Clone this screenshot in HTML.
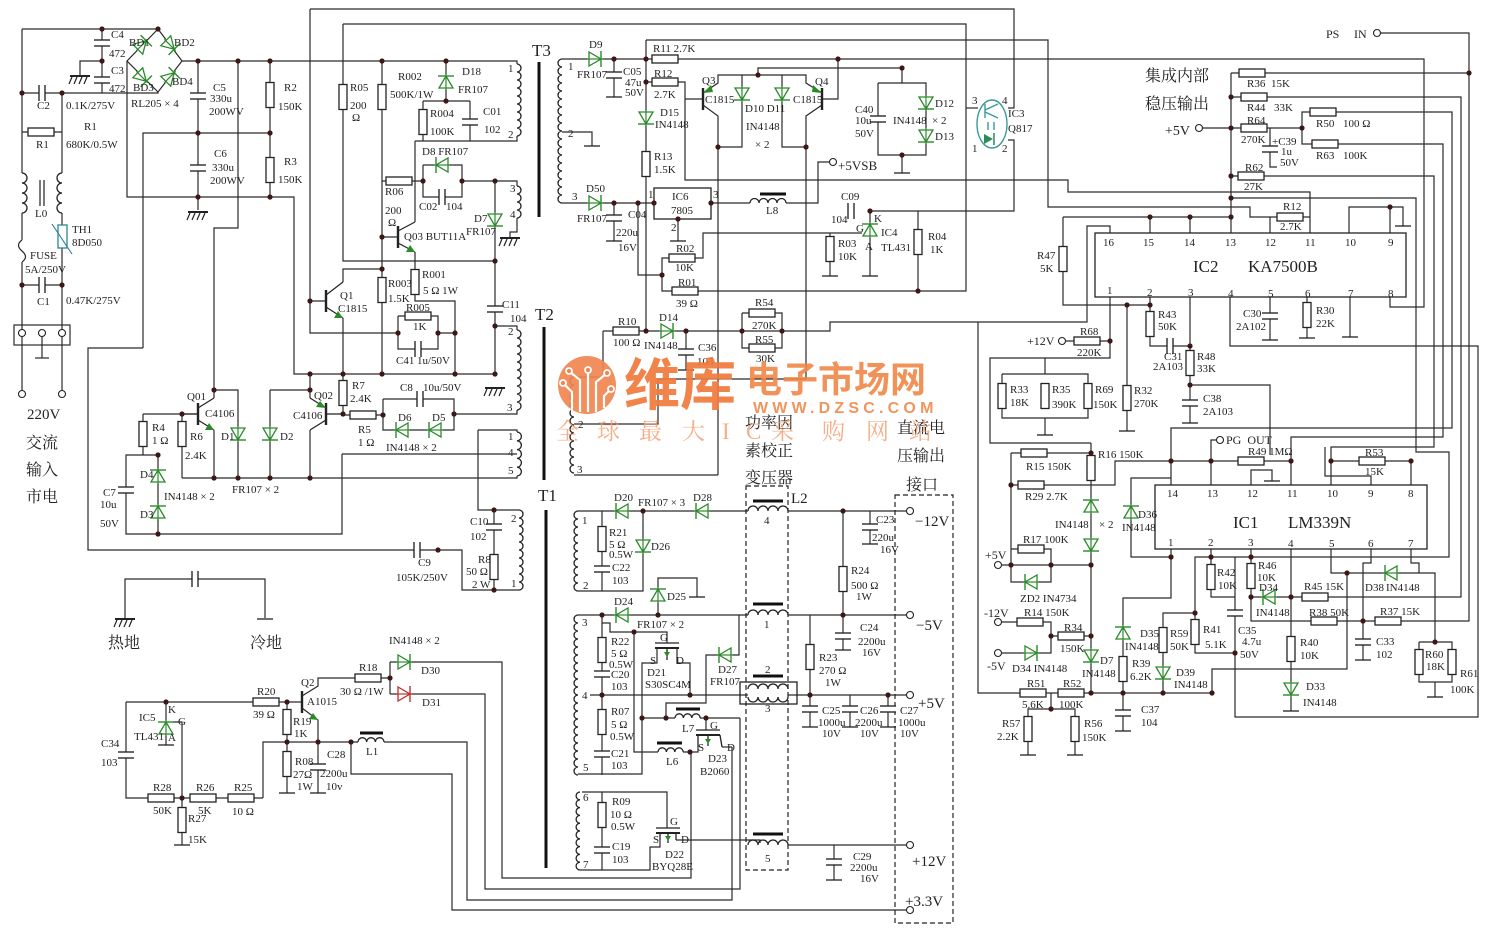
<!DOCTYPE html>
<html><head><meta charset="utf-8">
<style>
html,body{margin:0;padding:0;background:#fff;width:1485px;height:939px;overflow:hidden}
svg{display:block}
text{font-family:"Liberation Serif","Noto Serif CJK SC",serif;font-size:11px;fill:#222}
.b{font-size:15px}
.c{font-size:16px;font-family:"Liberation Serif","Noto Serif CJK SC",serif}
.ic{font-size:17px}
.wm{font-family:"Liberation Sans","Noto Sans CJK SC",sans-serif;font-weight:bold}
</style></head><body>
<svg width="1485" height="939" viewBox="0 0 1485 939" xmlns="http://www.w3.org/2000/svg">
<defs>
<g id="rv"><rect x="-4" y="-12.5" width="8" height="25" fill="#fff" stroke="#222" stroke-width="1.3"/></g>
<g id="rh"><rect x="-13" y="-4" width="26" height="8" fill="#fff" stroke="#222" stroke-width="1.3"/></g>
<g id="d"><rect x="-7" y="-7" width="14" height="14" fill="#fff"/><line x1="0" y1="-8" x2="0" y2="8" stroke="#2a8a2a" stroke-width="1.2"/><polygon points="-7,-6 7,-6 0,6" fill="none" stroke="#2a8a2a" stroke-width="1.3"/><line x1="-8" y1="6" x2="8" y2="6" stroke="#2a8a2a" stroke-width="1.4"/></g>
<g id="dr"><rect x="-7" y="-7" width="14" height="14" fill="#fff"/><line x1="0" y1="-8" x2="0" y2="8" stroke="#c03030" stroke-width="1.2"/><polygon points="-7,-6 7,-6 0,6" fill="none" stroke="#c03030" stroke-width="1.3"/><line x1="-8" y1="6" x2="8" y2="6" stroke="#c03030" stroke-width="1.4"/></g>
<g id="cv"><rect x="-8" y="-3" width="16" height="6" fill="#fff"/><line x1="-8" y1="-3" x2="8" y2="-3" stroke="#2a2a2a" stroke-width="1.4"/><line x1="-8" y1="3" x2="8" y2="3" stroke="#2a2a2a" stroke-width="1.4"/></g>
<g id="ch"><rect x="-3" y="-8" width="6" height="16" fill="#fff"/><line x1="-3" y1="-8" x2="-3" y2="8" stroke="#2a2a2a" stroke-width="1.4"/><line x1="3" y1="-8" x2="3" y2="8" stroke="#2a2a2a" stroke-width="1.4"/></g>
<g id="gh" stroke="#222"><line x1="-10" y1="0" x2="10" y2="0" stroke-width="2"/><line x1="-8" y1="1" x2="-11" y2="8" stroke-width="1.2"/><line x1="-3" y1="1" x2="-6" y2="8" stroke-width="1.2"/><line x1="2" y1="1" x2="-1" y2="8" stroke-width="1.2"/><line x1="7" y1="1" x2="4" y2="8" stroke-width="1.2"/></g>
<g id="gb"><line x1="-8" y1="0" x2="8" y2="0" stroke="#222" stroke-width="1.3"/></g>
<g id="n"><circle r="2.6" fill="#3a1818"/></g>
<g id="o"><circle r="3.5" fill="#fff" stroke="#222" stroke-width="1.1"/></g>
</defs>

<!-- ============ WIRES ============ -->
<g fill="none" stroke="#2a2a2a" stroke-width="1.2">
<!-- left input -->
<polyline points="22,29 158,29"/>
<polyline points="22,29 22,173"/>
<polyline points="22,93 62,93 158,93 158,92"/>
<polyline points="62,93 62,173"/>
<polyline points="22,132 62,132"/>
<polyline points="80,76 80,61 102,61"/>
<polyline points="102,29 102,93"/>
<polyline points="22,213 22,240"/>
<path d="M22,240 q-7,5 0,11 q7,6 0,11"/>
<polyline points="22,262 22,330"/>
<polyline points="22,336 22,391"/>
<polyline points="62,213 62,225"/>
<polyline points="62,248 62,330"/>
<polyline points="62,336 62,391"/>
<polyline points="22,285 62,285"/>
<polyline points="42,336 42,358"/>
<line x1="35" y1="358" x2="49" y2="358"/>
<rect x="14" y="325" width="56" height="20"/>
<!-- bridge -->
<polyline points="158,29 182,61 158,92 127,61 158,29"/>
<!-- HV rails -->
<polyline points="182,61 517,61 517,64"/>
<polyline points="127,61 127,197 294,197 294,374 495,374"/>
<polyline points="198,61 198,210"/>
<polyline points="270,61 270,197"/>
<polyline points="143,348 143,133 270,133"/>
<polyline points="143,348 88,348 88,550 462,550 462,590 519,590"/>
<polyline points="238,61 238,228 214,228 214,398"/>
<polyline points="214,390 238,390 238,478"/>
<polyline points="310,9 1014,9 1014,108 1008,108"/>
<polyline points="310,9 310,333 398,333"/>
<polyline points="343,24 966,24 966,291 698,291"/>
<polyline points="343,24 343,261 495,261"/>
<polyline points="382,61 382,374"/>
<polyline points="446,61 446,101"/>
<polyline points="423,101 470,101"/>
<polyline points="423,101 423,141"/>
<polyline points="470,101 470,141"/>
<polyline points="415,141 517,141 517,136"/>
<polyline points="415,141 415,222"/>
<polyline points="382,181 423,181"/>
<polyline points="423,165 462,165 462,197 423,197 423,165"/>
<polyline points="462,181 517,181 517,186"/>
<polyline points="495,181 495,374"/>
<polyline points="517,218 517,232 510,232 510,238"/>
<polyline points="415,252 415,301 455,301 455,374"/>
<polyline points="343,282 343,269 382,269"/>
<polyline points="343,318 343,416"/>
<polyline points="398,316 438,316 438,349 398,349 398,316"/>
<polyline points="438,333 455,333"/>
<polyline points="495,326 517,326 517,330"/>
<polyline points="455,414 517,414 517,410"/>
<polyline points="343,415 383,415"/>
<polyline points="383,399 454,399 454,430 383,430 383,399"/>
<polyline points="270,390 310,390"/>
<polyline points="310,374 310,398"/>
<polyline points="310,430 310,478"/>
<polyline points="214,430 214,478"/>
<polyline points="143,414 198,414"/>
<polyline points="143,414 143,455"/>
<polyline points="182,414 182,478"/>
<polyline points="270,390 270,478"/>
<polyline points="182,478 517,478 517,476"/>
<polyline points="342,454 342,534 126,534 126,455 158,455 158,534"/>
<polyline points="342,454 517,454"/>
<polyline points="478,430 517,430 517,432"/>
<polyline points="478,430 478,510 519,510"/>
<polyline points="494,510 494,590"/>
<!-- hot / cold ground -->
<polyline points="125,618 125,579 265,579 265,618"/>
<!-- lower left regulator -->
<polyline points="126,702 302,702"/>
<polyline points="287,702 287,793"/>
<polyline points="302,696 318,686 318,678 390,678"/>
<polyline points="390,662 390,694"/>
<polyline points="390,662 502,662 502,878 691,878 691,752"/>
<polyline points="390,694 485,694 485,889 740,889 740,718"/>
<polyline points="302,708 318,720 318,793"/>
<polyline points="263,798 263,742 467,742 467,900 732,900 732,747"/>
<polyline points="351,742 351,774 452,774 452,910 906,910"/>
<polyline points="126,702 126,798 263,798"/>
<polyline points="182,798 182,845"/>
<polyline points="166,702 166,745"/>
<polyline points="172,722 182,722 182,798"/>
<!-- T3 secondary -->
<polyline points="562,59 1424,59 1424,307 1390,307 1390,297"/>
<polyline points="614,59 614,97"/>
<polyline points="646,40 1048,40 1048,207 1250,207 1250,217 1310,217"/>
<polyline points="646,40 646,331"/>
<polyline points="646,82 685,82 685,180 1068,180 1068,192 1310,192 1310,233"/>
<polyline points="1270,217 1270,233"/>
<polyline points="685,99 703,99"/>
<polyline points="703,93 718,83 718,75 806,75 806,83 822,93"/>
<polyline points="758,75 758,68 902,68 902,83"/>
<polyline points="703,105 718,116 718,475"/>
<polyline points="742,75 742,147 718,147"/>
<polyline points="782,75 782,147 806,147"/>
<polyline points="822,105 806,116 806,379"/>
<polyline points="838,59 838,99 822,99"/>
<polyline points="878,83 926,83 926,155 878,155 878,83"/>
<polyline points="902,155 902,173"/>
<polyline points="966,108 978,108"/>
<polyline points="1008,140 1014,140 1014,211 870,211"/>
<polyline points="562,203 654,203"/>
<polyline points="614,203 614,241"/>
<polyline points="638,203 638,275 662,275 662,291 698,291"/>
<polyline points="662,275 662,258 703,258 703,233 862,233"/>
<polyline points="830,233 830,276"/>
<polyline points="711,203 818,203 818,162 829,162"/>
<polyline points="678,219 678,241"/>
<polyline points="870,211 870,276"/>
<polyline points="918,211 918,291"/>
<polyline points="603,331 830,331 830,322 1087,322 1087,226 1110,226 1110,233"/>
<polyline points="742,313 782,313 782,348 742,348 742,313"/>
<polyline points="686,331 686,370"/>
<polyline points="603,331 603,377 574,377"/>
<polyline points="574,424 658,424 658,379 806,379"/>
<polyline points="574,475 718,475"/>
<polyline points="562,132 592,132 592,146"/>
<polyline points="978,322 978,693 1212,693 1212,669 1347,669 1347,573"/>
<!-- right side -->
<polyline points="1381,33 1469,33 1469,621 1401,621"/>
<polyline points="1231,73 1231,233"/>
<polyline points="1231,73 1469,73"/>
<polyline points="1231,97 1461,97 1461,597 1251,597"/>
<polyline points="1203,128 1302,128 1302,112 1452,112 1452,428 1171,428 1171,485"/>
<polyline points="1302,128 1302,144 1443,144 1443,437 1291,437 1291,461"/>
<polyline points="1270,128 1270,167 1277,167"/>
<polyline points="1231,176 1434,176 1434,447 1331,447 1331,485"/>
<polyline points="1231,198 1416,198 1416,452 1449,452 1449,557 1211,557"/>
<polyline points="1063,217 1231,217"/>
<polyline points="1150,217 1150,233"/>
<polyline points="1190,217 1190,233"/>
<polyline points="1063,217 1063,305 1150,305"/>
<polyline points="1127,305 1127,431"/>
<polyline points="1349,233 1349,207 1403,207 1403,226"/>
<polyline points="1390,207 1390,233"/>
<polyline points="1110,297 1110,358 990,358 990,443 1091,443"/>
<polyline points="1066,341 1110,341"/>
<polyline points="1045,358 1045,374"/>
<polyline points="1002,374 1088,374 1088,418 1002,418 1002,374"/>
<polyline points="1045,418 1045,435"/>
<polyline points="1150,297 1150,346 1190,346"/>
<polyline points="1190,297 1190,423"/>
<polyline points="1190,385 1270,385 1270,455"/>
<polyline points="1230,297 1230,346 1478,346 1478,717 1235,717 1235,557"/>
<polyline points="1270,297 1270,340"/>
<polyline points="1307,297 1307,338"/>
<polyline points="1350,297 1350,337"/>
<polyline points="1011,453 1091,453"/>
<polyline points="1011,453 1011,582 1051,582 1051,549 1011,549"/>
<polyline points="1011,485 1115,485 1115,461 1291,461 1291,485"/>
<polyline points="1211,461 1211,485"/>
<polyline points="1211,461 1211,440 1216,440"/>
<polyline points="1091,443 1091,693"/>
<polyline points="1002,565 1091,565"/>
<polyline points="1002,622 1051,622 1051,653 1002,653"/>
<polyline points="1051,636 1091,636"/>
<polyline points="1251,485 1251,470 1272,470 1272,481"/>
<polyline points="1331,461 1411,461 1411,485"/>
<polyline points="1371,485 1371,476 1325,476 1325,447"/>
<polyline points="1171,478 1131,478 1131,557 1171,557"/>
<polyline points="1171,549 1171,598 1123,598 1123,731"/>
<polyline points="1028,755 1028,709 1075,709 1075,755"/>
<polyline points="1051,693 1051,709"/>
<polyline points="1211,549 1211,597 1235,597"/>
<polyline points="1211,557 1195,557 1195,653 1235,653"/>
<polyline points="1195,613 1163,613 1163,693"/>
<polyline points="1251,549 1251,621 1401,621"/>
<polyline points="1291,549 1291,711"/>
<polyline points="1331,549 1331,573 1435,573 1435,642"/>
<polyline points="1419,642 1452,642 1452,682 1419,682 1419,642"/>
<polyline points="1435,682 1435,697"/>
<polyline points="1371,549 1371,563 1363,563 1363,660"/>
<polyline points="1411,549 1411,563 1419,563 1419,573"/>
<!-- T1 secondaries -->
<polyline points="578,511 906,511"/>
<polyline points="602,511 602,591"/>
<polyline points="578,591 643,591 643,511"/>
<polyline points="870,511 870,544"/>
<polyline points="843,511 843,615"/>
<polyline points="578,615 906,615"/>
<polyline points="602,615 602,623 610,623 610,632 667,632 667,643"/>
<polyline points="658,615 658,578 697,578 697,597"/>
<polyline points="739,615 739,655 706,655 706,703 666,703 666,718"/>
<polyline points="810,615 810,727"/>
<polyline points="843,615 843,650"/>
<polyline points="602,623 602,775"/>
<polyline points="590,695 906,695"/>
<polyline points="578,774 642,774 642,663 657,663 657,648"/>
<polyline points="642,718 740,718"/>
<polyline points="634,632 634,752 698,752 698,747"/>
<polyline points="677,648 677,663 690,663 690,695"/>
<polyline points="706,718 706,730"/>
<polyline points="850,695 850,727"/>
<polyline points="888,695 888,727"/>
<polyline points="582,792 667,792 667,828"/>
<polyline points="602,792 602,870 580,870"/>
<polyline points="660,840 660,847 650,847 650,870 602,870"/>
<polyline points="676,840 760,840 760,845 906,845"/>
<polyline points="834,845 834,880"/>
<polyline points="722,747 732,747"/>
</g>

<!-- transformer cores -->
<g stroke="#111" stroke-width="3">
<line x1="539" y1="62" x2="539" y2="217"/>
<line x1="544" y1="327" x2="544" y2="480"/>
<line x1="546" y1="510" x2="546" y2="868"/>
<line x1="753" y1="501" x2="783" y2="501"/>
<line x1="753" y1="604" x2="783" y2="604"/>
<line x1="753" y1="676" x2="783" y2="676"/>
<line x1="753" y1="834" x2="783" y2="834"/>
<line x1="760" y1="194" x2="786" y2="194"/>
<line x1="360" y1="733" x2="383" y2="733"/>
<line x1="676" y1="709" x2="700" y2="709"/>
<line x1="657" y1="743" x2="682" y2="743"/>
</g>
<g stroke="#222" stroke-width="1.2"><line x1="40" y1="180" x2="40" y2="206"/><line x1="44" y1="180" x2="44" y2="206"/></g>

<!-- coils -->
<g fill="#fff" stroke="#fff" stroke-width="4">
<line x1="748" y1="511" x2="788" y2="511"/><line x1="748" y1="615" x2="788" y2="615"/><line x1="748" y1="695" x2="788" y2="695"/><line x1="748" y1="845" x2="788" y2="845"/>
<line x1="750" y1="203" x2="786" y2="203"/><line x1="358" y1="742" x2="384" y2="742"/><line x1="675" y1="718" x2="700" y2="718"/><line x1="658" y1="752" x2="683" y2="752"/>
</g>
<g fill="none" stroke="#222" stroke-width="1.3">
<path d="M517,64 a4,4 0 0 1 0,8 a4,4 0 0 1 0,8 a4,4 0 0 1 0,8 a4,4 0 0 1 0,8 a4,4 0 0 1 0,8 a4,4 0 0 1 0,8 a4,4 0 0 1 0,8 a4,4 0 0 1 0,8 a4,4 0 0 1 0,8"/>
<path d="M517,186 a4,4 0 0 1 0,8 a4,4 0 0 1 0,8 a4,4 0 0 1 0,8 a4,4 0 0 1 0,8"/>
<path d="M517,330 a4,4 0 0 1 0,8 a4,4 0 0 1 0,8 a4,4 0 0 1 0,8 a4,4 0 0 1 0,8 a4,4 0 0 1 0,8 a4,4 0 0 1 0,8 a4,4 0 0 1 0,8 a4,4 0 0 1 0,8 a4,4 0 0 1 0,8 a4,4 0 0 1 0,8"/>
<path d="M517,432 a4.4,4.4 0 0 1 0,8.8 a4.4,4.4 0 0 1 0,8.8 a4.4,4.4 0 0 1 0,8.8 a4.4,4.4 0 0 1 0,8.8 a4.4,4.4 0 0 1 0,8.8"/>
<path d="M519,510 a4,4 0 0 1 0,8 a4,4 0 0 1 0,8 a4,4 0 0 1 0,8 a4,4 0 0 1 0,8 a4,4 0 0 1 0,8 a4,4 0 0 1 0,8 a4,4 0 0 1 0,8 a4,4 0 0 1 0,8 a4,4 0 0 1 0,8 a4,4 0 0 1 0,8"/>
<path d="M562,59 a4,4 0 0 0 0,8 a4,4 0 0 0 0,8 a4,4 0 0 0 0,8 a4,4 0 0 0 0,8 a4,4 0 0 0 0,8 a4,4 0 0 0 0,8 a4,4 0 0 0 0,8 a4,4 0 0 0 0,8 a4,4 0 0 0 0,8 a4,4 0 0 0 0,8 a4,4 0 0 0 0,8 a4,4 0 0 0 0,8 a4,4 0 0 0 0,8 a4,4 0 0 0 0,8 a4,4 0 0 0 0,8 a4,4 0 0 0 0,8 a4,4 0 0 0 0,8 a4,4 0 0 0 0,8"/>
<path d="M574,377 a4,4 0 0 0 0,8 a4,4 0 0 0 0,8 a4,4 0 0 0 0,8 a4,4 0 0 0 0,8 a4,4 0 0 0 0,8 a4,4 0 0 0 0,8 a4,4 0 0 0 0,8 a4,4 0 0 0 0,8 a4,4 0 0 0 0,8 a4,4 0 0 0 0,8 a4,4 0 0 0 0,8 a4,4 0 0 0 0,8"/>
<path d="M578,511 a4,4 0 0 0 0,8 a4,4 0 0 0 0,8 a4,4 0 0 0 0,8 a4,4 0 0 0 0,8 a4,4 0 0 0 0,8 a4,4 0 0 0 0,8 a4,4 0 0 0 0,8 a4,4 0 0 0 0,8 a4,4 0 0 0 0,8 a4,4 0 0 0 0,8"/>
<path d="M578,615 a4,4 0 0 0 0,8 a4,4 0 0 0 0,8 a4,4 0 0 0 0,8 a4,4 0 0 0 0,8 a4,4 0 0 0 0,8 a4,4 0 0 0 0,8 a4,4 0 0 0 0,8 a4,4 0 0 0 0,8 a4,4 0 0 0 0,8 a4,4 0 0 0 0,8 a4,4 0 0 0 0,8 a4,4 0 0 0 0,8 a4,4 0 0 0 0,8 a4,4 0 0 0 0,8 a4,4 0 0 0 0,8 a4,4 0 0 0 0,8 a4,4 0 0 0 0,8 a4,4 0 0 0 0,8 a4,4 0 0 0 0,8 a4,4 0 0 0 0,8"/>
<path d="M580,792 a3.9,3.9 0 0 0 0,7.8 a3.9,3.9 0 0 0 0,7.8 a3.9,3.9 0 0 0 0,7.8 a3.9,3.9 0 0 0 0,7.8 a3.9,3.9 0 0 0 0,7.8 a3.9,3.9 0 0 0 0,7.8 a3.9,3.9 0 0 0 0,7.8 a3.9,3.9 0 0 0 0,7.8 a3.9,3.9 0 0 0 0,7.8 a3.9,3.9 0 0 0 0,7.8"/>
<path d="M22,173 a5,5 0 0 1 0,10 a5,5 0 0 1 0,10 a5,5 0 0 1 0,10 a5,5 0 0 1 0,10"/>
<path d="M62,173 a5,5 0 0 0 0,10 a5,5 0 0 0 0,10 a5,5 0 0 0 0,10 a5,5 0 0 0 0,10"/>
<path d="M750,203 a4.5,4.5 0 0 1 9,0 a4.5,4.5 0 0 1 9,0 a4.5,4.5 0 0 1 9,0 a4.5,4.5 0 0 1 9,0"/>
<path d="M358,742 a4.33,4.33 0 0 1 8.67,0 a4.33,4.33 0 0 1 8.67,0 a4.33,4.33 0 0 1 8.67,0"/>
<path d="M675,718 a4.2,4.2 0 0 1 8.4,0 a4.2,4.2 0 0 1 8.4,0 a4.2,4.2 0 0 1 8.4,0"/>
<path d="M658,752 a4.2,4.2 0 0 1 8.4,0 a4.2,4.2 0 0 1 8.4,0 a4.2,4.2 0 0 1 8.4,0"/>
<path d="M748,511 a5,5 0 0 1 10,0 a5,5 0 0 1 10,0 a5,5 0 0 1 10,0 a5,5 0 0 1 10,0"/>
<path d="M748,615 a5,5 0 0 1 10,0 a5,5 0 0 1 10,0 a5,5 0 0 1 10,0 a5,5 0 0 1 10,0"/>
<path d="M748,689 a5,5 0 0 1 10,0 a5,5 0 0 1 10,0 a5,5 0 0 1 10,0 a5,5 0 0 1 10,0"/>
<path d="M748,697 a5,5 0 0 0 10,0 a5,5 0 0 0 10,0 a5,5 0 0 0 10,0 a5,5 0 0 0 10,0"/>
<rect x="740" y="682" width="57" height="22" fill="none"/>
<path d="M748,845 a5,5 0 0 1 10,0 a5,5 0 0 1 10,0 a5,5 0 0 1 10,0 a5,5 0 0 1 10,0"/>
</g>

<!-- dashed boxes -->
<g fill="none" stroke="#222" stroke-width="1.2" stroke-dasharray="5,3">
<rect x="746" y="486" width="42" height="384"/>
<rect x="895" y="495" width="58" height="428"/>
</g>

<!-- IC boxes -->
<g fill="none" stroke="#222" stroke-width="1.3">
<rect x="654" y="188" width="57" height="31"/>
<rect x="1095" y="233" width="311" height="64"/>
<rect x="1155" y="485" width="272" height="64"/>
</g>

<!-- transistors bars -->
<g stroke="#222" stroke-width="2.4">
<line x1="398" y1="226" x2="398" y2="248"/>
<line x1="326" y1="290" x2="326" y2="312"/>
<line x1="198" y1="403" x2="198" y2="425"/>
<line x1="326" y1="403" x2="326" y2="425"/>
<line x1="703" y1="88" x2="703" y2="110"/>
<line x1="822" y1="88" x2="822" y2="110"/>
<line x1="302" y1="691" x2="302" y2="713"/>
</g>
<g fill="none" stroke="#222" stroke-width="1.2">
<polyline points="382,237 398,237"/><polyline points="398,231 415,222"/><polyline points="398,243 415,252"/>
<polyline points="310,301 326,301"/><polyline points="326,295 343,282"/><polyline points="326,307 343,318"/>
<polyline points="182,414 198,414"/><polyline points="198,408 214,398"/><polyline points="198,420 214,430"/>
<polyline points="343,414 326,414"/><polyline points="326,408 310,398"/><polyline points="326,420 310,430"/>
</g>
<g fill="#2a8a2a">
<polygon points="415,252 406,252 410,245"/>
<polygon points="343,318 334,318 338,311"/>
<polygon points="214,430 205,430 209,423"/>
<polygon points="326,408 316,407 320,401"/>
<polygon points="703,93 711,85 713,92"/>
<polygon points="822,93 813,85 812,92"/>
<polygon points="318,720 309,719 313,713"/>
</g>

<!-- MOSFETs -->
<g fill="none" stroke="#222" stroke-width="1.3">
<line x1="655" y1="643" x2="679" y2="643"/><line x1="655" y1="648" x2="679" y2="648" stroke-width="2"/><line x1="667" y1="648" x2="667" y2="660"/>
<line x1="696" y1="730" x2="720" y2="730"/><line x1="696" y1="735" x2="720" y2="735" stroke-width="2"/><line x1="698" y1="735" x2="698" y2="747"/><line x1="720" y1="735" x2="722" y2="747"/><line x1="708" y1="735" x2="708" y2="746"/>
<line x1="656" y1="828" x2="680" y2="828"/><line x1="656" y1="833" x2="680" y2="833" stroke-width="2"/><line x1="660" y1="833" x2="660" y2="840"/><line x1="676" y1="833" x2="676" y2="840"/><line x1="668" y1="833" x2="668" y2="843"/>
</g>
<g fill="#2a8a2a"><polygon points="664,652 670,652 667,657"/><polygon points="705,739 711,739 708,744"/><polygon points="665,836 671,836 668,841"/></g>

<!-- optocoupler -->
<g fill="none" stroke="#3a9a9a" stroke-width="1.4">
<ellipse cx="992" cy="124" rx="15" ry="24"/>
<line x1="985" y1="104" x2="985" y2="118"/><line x1="985" y1="110" x2="998" y2="104"/><line x1="985" y1="112" x2="998" y2="118"/>
<line x1="988" y1="122" x2="988" y2="130"/><line x1="994" y1="122" x2="994" y2="130"/>
</g>
<polygon points="984,134 984,144 993,139" fill="#2a8a5a"/><line x1="994" y1="133" x2="994" y2="145" stroke="#2a8a5a" stroke-width="1.5"/>

<!-- TH1 -->
<rect x="58" y="225" width="9" height="23" fill="#fff" stroke="#2a8a8a" stroke-width="1.3"/>
<line x1="52" y1="224" x2="72" y2="254" stroke="#2a7a9a" stroke-width="1.1"/>

<!-- resistors vertical -->
<g>
<use href="#rv" x="270" y="95"/><use href="#rv" x="270" y="170"/><use href="#rv" x="343" y="97"/><use href="#rv" x="382" y="97"/><use href="#rv" x="423" y="122"/>
<use href="#rv" x="382" y="290"/><use href="#rv" x="415" y="282"/><use href="#rv" x="343" y="393"/><use href="#rv" x="143" y="434"/><use href="#rv" x="182" y="434"/>
<use href="#rv" x="494" y="567"/><use href="#rv" x="646" y="164"/><use href="#rv" x="830" y="249"/><use href="#rv" x="918" y="242"/><use href="#rv" x="843" y="579"/>
<use href="#rv" x="810" y="657"/><use href="#rv" x="602" y="539"/><use href="#rv" x="602" y="650"/><use href="#rv" x="602" y="722"/><use href="#rv" x="602" y="815"/>
<use href="#rv" x="287" y="722"/><use href="#rv" x="287" y="764"/><use href="#rv" x="182" y="820"/><use href="#rv" x="1063" y="259"/><use href="#rv" x="1150" y="324"/>
<use href="#rv" x="1190" y="363"/><use href="#rv" x="1307" y="315"/><use href="#rv" x="1002" y="396"/><use href="#rv" x="1045" y="396"/><use href="#rv" x="1088" y="396"/>
<use href="#rv" x="1127" y="398"/><use href="#rv" x="1091" y="468"/><use href="#rv" x="1123" y="669"/><use href="#rv" x="1028" y="729"/><use href="#rv" x="1075" y="729"/>
<use href="#rv" x="1211" y="577"/><use href="#rv" x="1251" y="576"/><use href="#rv" x="1163" y="640"/><use href="#rv" x="1195" y="632"/><use href="#rv" x="1291" y="649"/>
<use href="#rv" x="1419" y="662"/><use href="#rv" x="1452" y="662"/>
</g>
<!-- resistors horizontal -->
<g>
<use href="#rh" x="41" y="132"/><use href="#rh" x="399" y="181"/><use href="#rh" x="418" y="316"/><use href="#rh" x="363" y="415"/><use href="#rh" x="665" y="59"/>
<use href="#rh" x="665" y="82"/><use href="#rh" x="682" y="258"/><use href="#rh" x="685" y="291"/><use href="#rh" x="626" y="331"/><use href="#rh" x="762" y="313"/>
<use href="#rh" x="762" y="348"/><use href="#rh" x="266" y="702"/><use href="#rh" x="368" y="678"/><use href="#rh" x="161" y="798"/><use href="#rh" x="203" y="798"/>
<use href="#rh" x="241" y="798"/><use href="#rh" x="1252" y="73"/><use href="#rh" x="1254" y="97"/><use href="#rh" x="1254" y="128"/><use href="#rh" x="1323" y="112"/>
<use href="#rh" x="1325" y="144"/><use href="#rh" x="1251" y="176"/><use href="#rh" x="1290" y="217"/><use href="#rh" x="1087" y="341"/><use href="#rh" x="1034" y="453"/>
<use href="#rh" x="1031" y="485"/><use href="#rh" x="1251" y="461"/><use href="#rh" x="1372" y="461"/><use href="#rh" x="1031" y="549"/><use href="#rh" x="1030" y="622"/>
<use href="#rh" x="1071" y="636"/><use href="#rh" x="1033" y="693"/><use href="#rh" x="1071" y="693"/><use href="#rh" x="1315" y="597"/><use href="#rh" x="1324" y="621"/>
<use href="#rh" x="1388" y="621"/>
</g>
<!-- capacitors -->
<g>
<use href="#cv" x="102" y="43"/><use href="#cv" x="102" y="80"/><use href="#cv" x="198" y="96"/><use href="#cv" x="198" y="168"/><use href="#cv" x="470" y="122"/>
<use href="#cv" x="495" y="309"/><use href="#cv" x="494" y="527"/><use href="#cv" x="614" y="75"/><use href="#cv" x="614" y="218"/><use href="#cv" x="878" y="119"/>
<use href="#cv" x="686" y="352"/><use href="#cv" x="318" y="767"/><use href="#cv" x="126" y="755"/><use href="#cv" x="1190" y="403"/><use href="#cv" x="1270" y="316"/>
<use href="#cv" x="1270" y="149"/><use href="#cv" x="1235" y="613"/><use href="#cv" x="1123" y="713"/><use href="#cv" x="1363" y="642"/><use href="#cv" x="602" y="569"/>
<use href="#cv" x="602" y="674"/><use href="#cv" x="602" y="754"/><use href="#cv" x="602" y="850"/><use href="#cv" x="870" y="527"/><use href="#cv" x="843" y="636"/>
<use href="#cv" x="810" y="709"/><use href="#cv" x="850" y="709"/><use href="#cv" x="888" y="709"/><use href="#cv" x="834" y="862"/><use href="#cv" x="126" y="490"/>
<use href="#ch" x="42" y="93"/><use href="#ch" x="42" y="285"/><use href="#ch" x="442" y="197"/><use href="#ch" x="418" y="349"/><use href="#ch" x="420" y="399"/>
<use href="#ch" x="417" y="550"/><use href="#ch" x="851" y="211"/><use href="#ch" x="1170" y="346"/><use href="#ch" x="195" y="579"/>
</g>
<!-- diodes -->
<g>
<use href="#d" transform="translate(446,82) rotate(180)"/>
<use href="#d" transform="translate(442,165) rotate(90)"/>
<use href="#d" transform="translate(495,220)"/>
<use href="#d" transform="translate(238,434)"/>
<use href="#d" transform="translate(270,434)"/>
<use href="#d" transform="translate(402,430) rotate(90)"/>
<use href="#d" transform="translate(435,430) rotate(90)"/>
<use href="#d" transform="translate(158,476) rotate(180)"/>
<use href="#d" transform="translate(158,512) rotate(180)"/>
<use href="#d" transform="translate(595,59) rotate(-90)"/>
<use href="#d" transform="translate(595,203) rotate(-90)"/>
<use href="#d" transform="translate(646,118)"/>
<use href="#d" transform="translate(742,94)"/>
<use href="#d" transform="translate(782,94)"/>
<use href="#d" transform="translate(926,103)"/>
<use href="#d" transform="translate(926,136)"/>
<use href="#d" transform="translate(667,331) rotate(-90)"/>
<use href="#d" transform="translate(404,662) rotate(-90)"/>
<use href="#dr" transform="translate(404,694) rotate(-90)"/>
<use href="#d" transform="translate(622,511) rotate(90)"/>
<use href="#d" transform="translate(702,511) rotate(90)"/>
<use href="#d" transform="translate(643,546)"/>
<use href="#d" transform="translate(622,615) rotate(90)"/>
<use href="#d" transform="translate(658,595) rotate(180)"/>
<use href="#d" transform="translate(725,655) rotate(90)"/>
<use href="#d" transform="translate(1131,512) rotate(180)"/>
<use href="#d" transform="translate(1091,506) rotate(180)"/>
<use href="#d" transform="translate(1091,545)"/>
<use href="#d" transform="translate(1091,656)"/>
<use href="#d" transform="translate(1031,582) rotate(90)"/>
<use href="#d" transform="translate(1031,653) rotate(-90)"/>
<use href="#d" transform="translate(1123,633) rotate(180)"/>
<use href="#d" transform="translate(1163,673)"/>
<use href="#d" transform="translate(1269,597) rotate(90)"/>
<use href="#d" transform="translate(1391,573) rotate(90)"/>
<use href="#d" transform="translate(1291,689)"/>
<use href="#d" transform="translate(166,728) rotate(180)"/>
<use href="#d" transform="translate(870,230) rotate(180)"/>
<use href="#d" transform="translate(142,45) rotate(-135)"/>
<use href="#d" transform="translate(170,45) rotate(-45)"/>
<use href="#d" transform="translate(142,77) rotate(-45)"/>
<use href="#d" transform="translate(170,77) rotate(-135)"/>
</g>
<!-- grounds -->
<g>
<use href="#gh" x="80" y="76"/><use href="#gh" x="198" y="212"/><use href="#gh" x="495" y="388"/><use href="#gh" x="510" y="238"/><use href="#gh" x="125" y="619"/>
<use href="#gb" x="265" y="619"/><use href="#gb" x="592" y="146"/><use href="#gb" x="614" y="97"/><use href="#gb" x="614" y="241"/><use href="#gb" x="678" y="241"/>
<use href="#gb" x="902" y="173"/><use href="#gb" x="830" y="276"/><use href="#gb" x="870" y="276"/><use href="#gb" x="686" y="370"/><use href="#gb" x="287" y="793"/>
<use href="#gb" x="318" y="793"/><use href="#gb" x="182" y="845"/><use href="#gb" x="166" y="745"/><use href="#gb" x="697" y="597"/><use href="#gb" x="870" y="544"/>
<use href="#gb" x="843" y="650"/><use href="#gb" x="810" y="727"/><use href="#gb" x="850" y="727"/><use href="#gb" x="888" y="727"/><use href="#gb" x="834" y="880"/>
<use href="#gb" x="1403" y="226"/><use href="#gb" x="1045" y="435"/><use href="#gb" x="1127" y="431"/><use href="#gb" x="1190" y="423"/><use href="#gb" x="1270" y="340"/>
<use href="#gb" x="1307" y="338"/><use href="#gb" x="1350" y="337"/><use href="#gb" x="1272" y="481"/><use href="#gb" x="1123" y="731"/><use href="#gb" x="1028" y="755"/>
<use href="#gb" x="1075" y="755"/><use href="#gb" x="1363" y="660"/><use href="#gb" x="1291" y="711"/><use href="#gb" x="1435" y="697"/>
</g>
<!-- nodes -->
<g>
<use href="#n" x="102" y="29"/><use href="#n" x="158" y="29"/><use href="#n" x="102" y="61"/><use href="#n" x="22" y="93"/><use href="#n" x="62" y="93"/>
<use href="#n" x="22" y="285"/><use href="#n" x="62" y="285"/><use href="#n" x="198" y="61"/><use href="#n" x="238" y="61"/><use href="#n" x="270" y="61"/>
<use href="#n" x="382" y="61"/><use href="#n" x="446" y="61"/><use href="#n" x="198" y="133"/><use href="#n" x="270" y="133"/><use href="#n" x="198" y="197"/>
<use href="#n" x="270" y="197"/><use href="#n" x="446" y="101"/><use href="#n" x="423" y="181"/><use href="#n" x="462" y="181"/><use href="#n" x="495" y="181"/>
<use href="#n" x="382" y="237"/><use href="#n" x="382" y="269"/><use href="#n" x="310" y="301"/><use href="#n" x="398" y="333"/><use href="#n" x="438" y="333"/>
<use href="#n" x="455" y="333"/><use href="#n" x="495" y="261"/><use href="#n" x="495" y="326"/><use href="#n" x="310" y="374"/><use href="#n" x="343" y="374"/>
<use href="#n" x="382" y="374"/><use href="#n" x="455" y="374"/><use href="#n" x="495" y="374"/><use href="#n" x="214" y="390"/><use href="#n" x="310" y="390"/>
<use href="#n" x="182" y="414"/><use href="#n" x="343" y="414"/><use href="#n" x="383" y="415"/><use href="#n" x="454" y="414"/><use href="#n" x="158" y="455"/>
<use href="#n" x="158" y="534"/><use href="#n" x="214" y="478"/><use href="#n" x="238" y="478"/><use href="#n" x="270" y="478"/><use href="#n" x="310" y="478"/>
<use href="#n" x="494" y="510"/><use href="#n" x="438" y="550"/><use href="#n" x="494" y="590"/>
<use href="#n" x="614" y="59"/><use href="#n" x="646" y="59"/><use href="#n" x="838" y="59"/><use href="#n" x="646" y="82"/><use href="#n" x="758" y="75"/>
<use href="#n" x="718" y="147"/><use href="#n" x="806" y="147"/><use href="#n" x="902" y="68"/><use href="#n" x="902" y="155"/><use href="#n" x="614" y="203"/>
<use href="#n" x="638" y="203"/><use href="#n" x="654" y="203"/><use href="#n" x="711" y="203"/><use href="#n" x="678" y="219"/><use href="#n" x="662" y="275"/>
<use href="#n" x="870" y="211"/><use href="#n" x="918" y="291"/><use href="#n" x="646" y="331"/><use href="#n" x="686" y="331"/><use href="#n" x="742" y="331"/>
<use href="#n" x="782" y="331"/><use href="#n" x="1469" y="73"/><use href="#n" x="1231" y="97"/><use href="#n" x="1231" y="128"/><use href="#n" x="1302" y="128"/>
<use href="#n" x="1231" y="176"/><use href="#n" x="1231" y="198"/><use href="#n" x="1150" y="217"/><use href="#n" x="1190" y="217"/><use href="#n" x="1231" y="217"/>
<use href="#n" x="1390" y="207"/><use href="#n" x="1150" y="305"/><use href="#n" x="1127" y="305"/><use href="#n" x="1110" y="341"/><use href="#n" x="1190" y="346"/>
<use href="#n" x="1190" y="385"/><use href="#n" x="1091" y="453"/><use href="#n" x="1011" y="485"/><use href="#n" x="1011" y="565"/><use href="#n" x="1051" y="565"/>
<use href="#n" x="1091" y="565"/><use href="#n" x="1051" y="636"/><use href="#n" x="1091" y="636"/><use href="#n" x="1091" y="693"/><use href="#n" x="1123" y="693"/>
<use href="#n" x="1051" y="709"/><use href="#n" x="1171" y="461"/><use href="#n" x="1211" y="461"/><use href="#n" x="1291" y="461"/><use href="#n" x="1331" y="461"/>
<use href="#n" x="1411" y="461"/><use href="#n" x="1171" y="557"/><use href="#n" x="1211" y="557"/><use href="#n" x="1251" y="557"/><use href="#n" x="1251" y="597"/>
<use href="#n" x="1291" y="597"/><use href="#n" x="1235" y="653"/><use href="#n" x="1195" y="613"/><use href="#n" x="1363" y="621"/><use href="#n" x="1347" y="573"/>
<use href="#n" x="1435" y="642"/><use href="#n" x="643" y="511"/><use href="#n" x="843" y="511"/><use href="#n" x="602" y="615"/><use href="#n" x="658" y="615"/>
<use href="#n" x="602" y="695"/><use href="#n" x="690" y="695"/><use href="#n" x="810" y="695"/><use href="#n" x="888" y="695"/><use href="#n" x="642" y="718"/>
<use href="#n" x="666" y="718"/><use href="#n" x="706" y="718"/><use href="#n" x="690" y="752"/><use href="#n" x="634" y="632"/><use href="#n" x="287" y="702"/>
<use href="#n" x="166" y="702"/><use href="#n" x="318" y="742"/><use href="#n" x="351" y="742"/><use href="#n" x="287" y="742"/><use href="#n" x="182" y="798"/>
<use href="#n" x="390" y="678"/><use href="#n" x="843" y="615"/><use href="#n" x="1212" y="693"/><use href="#n" x="1163" y="693"/>
</g>
<!-- terminals -->
<g>
<use href="#o" x="22" y="333"/><use href="#o" x="42" y="333"/><use href="#o" x="62" y="333"/><use href="#o" x="22" y="394"/><use href="#o" x="62" y="394"/>
<use href="#o" x="833" y="162"/><use href="#o" x="1377" y="33"/><use href="#o" x="1199" y="128"/><use href="#o" x="1062" y="341"/><use href="#o" x="1220" y="440"/>
<use href="#o" x="998" y="565"/><use href="#o" x="998" y="622"/><use href="#o" x="998" y="653"/>
<use href="#o" x="910" y="511"/><use href="#o" x="910" y="615"/><use href="#o" x="910" y="695"/><use href="#o" x="910" y="845"/><use href="#o" x="910" y="910"/>
</g>

<!-- ============ TEXT ============ -->
<g>
<text x="111" y="38">C4</text><text x="109" y="57">472</text><text x="111" y="74">C3</text><text x="109" y="92">472</text>
<text x="129" y="46">BD1</text><text x="174" y="46">BD2</text><text x="133" y="91">BD3</text><text x="172" y="85">BD4</text><text x="131" y="107">RL205 × 4</text>
<text x="37" y="109">C2</text><text x="66" y="109">0.1K/275V</text><text x="84" y="130">R1</text><text x="36" y="148">R1</text><text x="66" y="148">680K/0.5W</text>
<text x="35" y="217">L0</text><text x="72" y="233">TH1</text><text x="72" y="246">8D050</text><text x="30" y="259">FUSE</text><text x="25" y="273">5A/250V</text>
<text x="37" y="305">C1</text><text x="66" y="304">0.47K/275V</text>
<text x="213" y="91">C5</text><text x="210" y="102">330u</text><text x="209" y="115">200WV</text><text x="214" y="157">C6</text><text x="212" y="171">330u</text><text x="210" y="184">200WV</text>
<text x="284" y="91">R2</text><text x="278" y="110">150K</text><text x="284" y="165">R3</text><text x="278" y="183">150K</text>
<text x="350" y="91">R05</text><text x="350" y="109">200</text><text x="352" y="121">Ω</text>
<text x="398" y="80">R002</text><text x="390" y="98">500K/1W</text><text x="462" y="75">D18</text><text x="458" y="93">FR107</text>
<text x="430" y="117">R004</text><text x="430" y="135">100K</text><text x="483" y="115">C01</text><text x="484" y="133">102</text>
<text x="422" y="155">D8 FR107</text><text x="385" y="195">R06</text><text x="385" y="214">200</text><text x="388" y="226">Ω</text><text x="419" y="210">C02</text><text x="446" y="210">104</text>
<text x="474" y="222">D7</text><text x="466" y="235">FR107</text><text x="404" y="240">Q03 BUT11A</text>
<text x="508" y="72">1</text><text x="508" y="138">2</text><text x="510" y="192">3</text><text x="510" y="218">4</text>
<text x="340" y="299">Q1</text><text x="338" y="312">C1815</text><text x="388" y="287">R003</text><text x="388" y="302">1.5K</text>
<text x="422" y="278">R001</text><text x="423" y="294">5 Ω 1W</text><text x="406" y="311">R005</text><text x="413" y="330">1K</text>
<text x="396" y="364">C41</text><text x="417" y="364">1u/50V</text><text x="502" y="308">C11</text><text x="510" y="322">104</text>
<text x="508" y="335">2</text><text x="507" y="411">3</text><text x="508" y="440">1</text><text x="508" y="456">4</text><text x="508" y="474">5</text>
<text x="187" y="400">Q01</text><text x="205" y="417">C4106</text><text x="221" y="440">D1</text><text x="280" y="440">D2</text>
<text x="314" y="399">Q02</text><text x="293" y="419">C4106</text><text x="352" y="389">R7</text><text x="350" y="402">2.4K</text>
<text x="400" y="391">C8</text><text x="423" y="391">10u/50V</text><text x="358" y="433">R5</text><text x="358" y="446">1 Ω</text>
<text x="398" y="421">D6</text><text x="432" y="421">D5</text><text x="386" y="451">IN4148 × 2</text>
<text x="152" y="431">R4</text><text x="152" y="444">1 Ω</text><text x="190" y="440">R6</text><text x="185" y="459">2.4K</text>
<text x="140" y="478">D4</text><text x="140" y="518">D3</text><text x="164" y="500">IN4148 × 2</text>
<text x="103" y="496">C7</text><text x="100" y="508">10u</text><text x="100" y="527">50V</text><text x="232" y="493">FR107 × 2</text>
<text x="470" y="525">C10</text><text x="470" y="540">102</text><text x="478" y="563">R8</text><text x="466" y="575">50 Ω</text><text x="472" y="588">2 W</text>
<text x="418" y="566">C9</text><text x="396" y="581">105K/250V</text><text x="511" y="522">2</text><text x="511" y="587">1</text>
<text x="389" y="644">IN4148 × 2</text><text x="421" y="674">D30</text><text x="422" y="706">D31</text><text x="359" y="671">R18</text><text x="340" y="695">30 Ω /1W</text>
<text x="301" y="686">Q2</text><text x="307" y="705">A1015</text><text x="257" y="695">R20</text><text x="253" y="718">39 Ω</text>
<text x="293" y="725">R19</text><text x="294" y="737">1K</text><text x="295" y="765">R08</text><text x="293" y="778">27Ω</text><text x="297" y="790">1W</text>
<text x="327" y="758">C28</text><text x="320" y="777">2200u</text><text x="326" y="790">10v</text><text x="366" y="755">L1</text>
<text x="139" y="721">IC5</text><text x="134" y="740">TL431</text><text x="168" y="713">K</text><text x="178" y="725">G</text><text x="168" y="741">A</text>
<text x="101" y="747">C34</text><text x="101" y="766">103</text><text x="153" y="791">R28</text><text x="153" y="814">50K</text><text x="196" y="791">R26</text><text x="198" y="814">5K</text>
<text x="234" y="791">R25</text><text x="232" y="815">10 Ω</text><text x="188" y="822">R27</text><text x="188" y="843">15K</text>
<!-- middle -->
<text x="589" y="48">D9</text><text x="577" y="78">FR107</text><text x="623" y="75">C05</text><text x="625" y="86">47u</text><text x="625" y="96">50V</text>
<text x="653" y="52">R11 2.7K</text><text x="654" y="77">R12</text><text x="654" y="98">2.7K</text>
<text x="702" y="84">Q3</text><text x="705" y="103">C1815</text><text x="745" y="112">D10 D11</text><text x="746" y="130">IN4148</text><text x="755" y="148">× 2</text>
<text x="815" y="85">Q4</text><text x="793" y="103">C1815</text><text x="660" y="116">D15</text><text x="655" y="128">IN4148</text>
<text x="855" y="113">C40</text><text x="855" y="124">10u</text><text x="855" y="137">50V</text><text x="893" y="124">IN4148</text><text x="932" y="124">× 2</text><text x="935" y="107">D12</text><text x="935" y="140">D13</text>
<text x="838" y="170" style="font-size:13px">+5VSB</text><text x="654" y="160">R13</text><text x="654" y="173">1.5K</text>
<text x="586" y="192">D50</text><text x="577" y="222">FR107</text><text x="628" y="218">C04</text><text x="616" y="236">220u</text><text x="618" y="251">16V</text>
<text x="672" y="200">IC6</text><text x="671" y="214">7805</text><text x="648" y="198">1</text><text x="713" y="198">3</text><text x="671" y="231">2</text><text x="766" y="214">L8</text>
<text x="841" y="200">C09</text><text x="831" y="223">104</text><text x="874" y="222">K</text><text x="856" y="232">G</text><text x="881" y="236">IC4</text><text x="881" y="251">TL431</text><text x="865" y="250">A</text>
<text x="838" y="247">R03</text><text x="838" y="260">10K</text><text x="928" y="240">R04</text><text x="930" y="253">1K</text>
<text x="676" y="252">R02</text><text x="675" y="271">10K</text><text x="678" y="286">R01</text><text x="676" y="307">39 Ω</text>
<text x="618" y="325">R10</text><text x="613" y="346">100 Ω</text><text x="659" y="321">D14</text><text x="644" y="349">IN4148</text><text x="698" y="351">C36</text><text x="697" y="365">103</text>
<text x="755" y="306">R54</text><text x="752" y="329">270K</text><text x="755" y="343">R55</text><text x="756" y="362">30K</text>
<text x="568" y="70">1</text><text x="568" y="137">2</text><text x="572" y="200">3</text><text x="578" y="428">2</text><text x="577" y="473">3</text>
<text x="1008" y="117">IC3</text><text x="1008" y="132">Q817</text><text x="972" y="104">3</text><text x="972" y="152">1</text><text x="1002" y="104">4</text><text x="1002" y="152">2</text>
<text x="532" y="56" class="ic">T3</text><text x="535" y="320" class="ic">T2</text><text x="538" y="501" class="ic">T1</text>
<!-- right -->
<text x="1326" y="38" style="font-size:12px">PS</text><text x="1354" y="38" style="font-size:12px">IN</text>
<text x="1145" y="81" class="c">集成内部</text><text x="1145" y="109" class="c">稳压输出</text><text x="1165" y="135" style="font-size:14px">+5V</text>
<text x="1247" y="87">R36</text><text x="1271" y="87">15K</text><text x="1247" y="111">R44</text><text x="1274" y="111">33K</text>
<text x="1247" y="124">R64</text><text x="1241" y="143">270K</text><text x="1272" y="145">+C39</text><text x="1281" y="155">1u</text><text x="1280" y="166">50V</text>
<text x="1316" y="127">R50</text><text x="1343" y="127">100 Ω</text><text x="1316" y="159">R63</text><text x="1343" y="159">100K</text>
<text x="1245" y="171">R62</text><text x="1244" y="190">27K</text><text x="1283" y="210">R12</text><text x="1280" y="230">2.7K</text>
<text x="1103" y="246">16</text><text x="1143" y="246">15</text><text x="1184" y="246">14</text><text x="1225" y="246">13</text><text x="1265" y="246">12</text><text x="1305" y="246">11</text><text x="1345" y="246">10</text><text x="1388" y="246">9</text>
<text x="1107" y="294">1</text><text x="1147" y="296">2</text><text x="1188" y="296">3</text><text x="1228" y="297">4</text><text x="1268" y="297">5</text><text x="1305" y="297">6</text><text x="1348" y="297">7</text><text x="1388" y="297">8</text>
<text x="1193" y="272" class="ic">IC2</text><text x="1248" y="272" class="ic">KA7500B</text>
<text x="1037" y="259">R47</text><text x="1040" y="272">5K</text><text x="1158" y="318">R43</text><text x="1158" y="330">50K</text>
<text x="1027" y="345" style="font-size:12px">+12V</text><text x="1080" y="335">R68</text><text x="1077" y="356">220K</text>
<text x="1164" y="360">C31</text><text x="1153" y="370">2A103</text><text x="1197" y="360">R48</text><text x="1197" y="372">33K</text>
<text x="1203" y="402">C38</text><text x="1203" y="415">2A103</text><text x="1243" y="317">C30</text><text x="1236" y="330">2A102</text><text x="1316" y="314">R30</text><text x="1316" y="327">22K</text>
<text x="1010" y="393">R33</text><text x="1010" y="406">18K</text><text x="1052" y="393">R35</text><text x="1052" y="408">390K</text><text x="1095" y="393">R69</text><text x="1093" y="408">150K</text>
<text x="1134" y="394">R32</text><text x="1134" y="407">270K</text>
<text x="1226" y="444" style="font-size:12px">PG&#160;&#160;OUT</text><text x="1248" y="455">R49 1MΩ</text><text x="1365" y="456">R53</text><text x="1365" y="475">15K</text>
<text x="1098" y="458">R16 150K</text><text x="1026" y="470">R15 150K</text><text x="1025" y="500">R29 2.7K</text><text x="1055" y="528">IN4148</text><text x="1099" y="528">× 2</text>
<text x="1138" y="518">D36</text><text x="1122" y="531">IN4148</text>
<text x="1167" y="497">14</text><text x="1207" y="497">13</text><text x="1247" y="497">12</text><text x="1287" y="497">11</text><text x="1327" y="497">10</text><text x="1368" y="497">9</text><text x="1408" y="497">8</text>
<text x="1168" y="546">1</text><text x="1208" y="546">2</text><text x="1248" y="546">3</text><text x="1288" y="547">4</text><text x="1329" y="547">5</text><text x="1368" y="547">6</text><text x="1408" y="547">7</text>
<text x="1233" y="528" class="ic">IC1</text><text x="1288" y="528" class="ic">LM339N</text>
<text x="1023" y="543">R17 100K</text><text x="985" y="559" style="font-size:12px">+5V</text><text x="1020" y="602">ZD2 IN4734</text>
<text x="984" y="617" style="font-size:12px">-12V</text><text x="1024" y="616">R14 150K</text><text x="1064" y="631">R34</text><text x="1060" y="652">150K</text>
<text x="987" y="670" style="font-size:12px">-5V</text><text x="1012" y="672">D34 IN4148</text><text x="1100" y="664">D7</text><text x="1082" y="677">IN4148</text>
<text x="1140" y="637">D35</text><text x="1125" y="650">IN4148</text><text x="1132" y="667">R39</text><text x="1130" y="680">6.2K</text>
<text x="1170" y="637">R59</text><text x="1170" y="650">50K</text><text x="1176" y="676">D39</text><text x="1174" y="688">IN4148</text>
<text x="1203" y="633">R41</text><text x="1205" y="648">5.1K</text><text x="1217" y="576">R42</text><text x="1218" y="589">10K</text>
<text x="1258" y="569">R46</text><text x="1257" y="581">10K</text><text x="1259" y="591">D34</text><text x="1256" y="616">IN4148</text><text x="1304" y="590">R45 15K</text>
<text x="1365" y="591">D38</text><text x="1386" y="591">IN4148</text><text x="1238" y="634">C35</text><text x="1242" y="645">4.7u</text><text x="1240" y="658">50V</text>
<text x="1309" y="616">R38 50K</text><text x="1380" y="615">R37 15K</text><text x="1376" y="645">C33</text><text x="1376" y="658">102</text>
<text x="1300" y="646">R40</text><text x="1300" y="659">10K</text><text x="1306" y="690">D33</text><text x="1303" y="706">IN4148</text>
<text x="1425" y="658">R60</text><text x="1426" y="670">18K</text><text x="1460" y="677">R61</text><text x="1450" y="693">100K</text>
<text x="1027" y="687">R51</text><text x="1022" y="708">5.6K</text><text x="1063" y="687">R52</text><text x="1059" y="708">100K</text>
<text x="1002" y="727">R57</text><text x="997" y="740">2.2K</text><text x="1084" y="727">R56</text><text x="1082" y="741">150K</text><text x="1141" y="713">C37</text><text x="1141" y="726">104</text>
<!-- output section -->
<text x="614" y="501">D20</text><text x="638" y="506">FR107 × 3</text><text x="693" y="501">D28</text><text x="582" y="524">1</text><text x="764" y="524">4</text>
<text x="876" y="523">C23</text><text x="872" y="541">220u</text><text x="880" y="553">16V</text>
<text x="609" y="536">R21</text><text x="609" y="548">5 Ω</text><text x="609" y="558">0.5W</text><text x="651" y="550">D26</text><text x="612" y="571">C22</text><text x="612" y="584">103</text><text x="583" y="589">2</text>
<text x="614" y="605">D24</text><text x="667" y="600">D25</text><text x="637" y="628">FR107 × 2</text><text x="582" y="626">3</text><text x="764" y="628">1</text>
<text x="851" y="574">R24</text><text x="851" y="589">500 Ω</text><text x="856" y="600">1W</text><text x="860" y="631">C24</text><text x="858" y="645">2200u</text><text x="862" y="656">16V</text>
<text x="611" y="645">R22</text><text x="611" y="657">5 Ω</text><text x="609" y="668">0.5W</text><text x="660" y="641">G</text><text x="650" y="664">S</text><text x="676" y="664">D</text>
<text x="647" y="676">D21</text><text x="645" y="688">S30SC4M</text><text x="718" y="673">D27</text><text x="710" y="685">FR107</text><text x="611" y="678">C20</text><text x="611" y="690">103</text>
<text x="765" y="673">2</text><text x="582" y="699">4</text><text x="765" y="712">3</text>
<text x="819" y="661">R23</text><text x="819" y="674">270 Ω</text><text x="825" y="686">1W</text>
<text x="822" y="714">C25</text><text x="818" y="726">1000u</text><text x="822" y="737">10V</text><text x="860" y="714">C26</text><text x="855" y="726">2200u</text><text x="860" y="737">10V</text>
<text x="900" y="714">C27</text><text x="898" y="726">1000u</text><text x="900" y="737">10V</text>
<text x="611" y="715">R07</text><text x="611" y="728">5 Ω</text><text x="610" y="740">0.5W</text><text x="682" y="732">L7</text><text x="710" y="729">G</text><text x="698" y="751">S</text><text x="727" y="751">D</text>
<text x="666" y="765">L6</text><text x="708" y="762">D23</text><text x="700" y="775">B2060</text><text x="611" y="757">C21</text><text x="611" y="769">103</text><text x="583" y="771">5</text>
<text x="583" y="801">6</text><text x="612" y="805">R09</text><text x="610" y="818">10 Ω</text><text x="611" y="830">0.5W</text><text x="670" y="825">G</text><text x="653" y="843">S</text><text x="681" y="843">D</text>
<text x="612" y="850">C19</text><text x="612" y="863">103</text><text x="583" y="868">7</text><text x="665" y="858">D22</text><text x="652" y="870">BYQ28E</text>
<text x="765" y="862">5</text><text x="853" y="860">C29</text><text x="850" y="871">2200u</text><text x="860" y="882">16V</text>
<text x="791" y="503" class="b">L2</text>
<text x="915" y="526" class="b">−12V</text><text x="916" y="630" class="b">−5V</text><text x="918" y="708" class="b">+5V</text><text x="912" y="866" class="b">+12V</text><text x="905" y="906" class="b">+3.3V</text>
<text x="745" y="428" class="c">功率因</text><text x="745" y="456" class="c">素校正</text><text x="745" y="483" class="c">变压器</text>
<text x="897" y="433" class="c">直流电</text><text x="897" y="461" class="c">压输出</text><text x="906" y="490" class="c">接口</text>
<text x="27" y="419" class="b">220V</text><text x="26" y="448" class="c">交流</text><text x="26" y="475" class="c">输入</text><text x="26" y="502" class="c">市电</text>
<text x="108" y="648" class="c">热地</text><text x="250" y="648" class="c">冷地</text>
</g>

<!-- ============ WATERMARK ============ -->
<g>
<circle cx="587" cy="385" r="29" fill="#F08550" opacity="0.92"/>
<g fill="none" stroke="#fff" stroke-width="2.2">
<path d="M572,412 L572,392 L564,384"/><path d="M580,412 L580,380 L570,372"/><path d="M588,412 L588,372"/><path d="M596,412 L596,382 L606,374"/><path d="M604,408 L604,396 L610,390"/>
</g>
<g fill="#F08550" stroke="#fff" stroke-width="1.8">
<circle cx="563" cy="383" r="3"/><circle cx="569" cy="371" r="3"/><circle cx="588" cy="370" r="3"/><circle cx="607" cy="373" r="3"/><circle cx="611" cy="389" r="3"/>
</g>
<text x="624" y="405" class="wm" style="font-size:56px;fill:#EF7A3C" opacity="0.92">维库</text>
<text x="746" y="392" class="wm" style="font-size:36px;fill:#F08848" opacity="0.9">电子市场网</text>
<text x="753" y="413" class="wm" style="font-size:16px;fill:#F08A4E;letter-spacing:4.2px" opacity="0.9">WWW.DZSC.COM</text>
<g class="wm" style="font-size:23px;fill:#F4A274;font-weight:normal" opacity="0.85">
<text x="556" y="439" style="font-size:23px;fill:#F4A274">全</text><text x="597" y="439" style="font-size:23px;fill:#F4A274">球</text><text x="639" y="439" style="font-size:23px;fill:#F4A274">最</text><text x="682" y="439" style="font-size:23px;fill:#F4A274">大</text>
<text x="722" y="439" style="font-size:23px;fill:#F4A274">I</text><text x="746" y="439" style="font-size:23px;fill:#F4A274">C</text><text x="771" y="439" style="font-size:23px;fill:#F4A274">采</text><text x="822" y="439" style="font-size:23px;fill:#F4A274">购</text>
<text x="866" y="439" style="font-size:23px;fill:#F4A274">网</text><text x="909" y="439" style="font-size:23px;fill:#F4A274">站</text>
</g>
</g>
</svg>
</body></html>
